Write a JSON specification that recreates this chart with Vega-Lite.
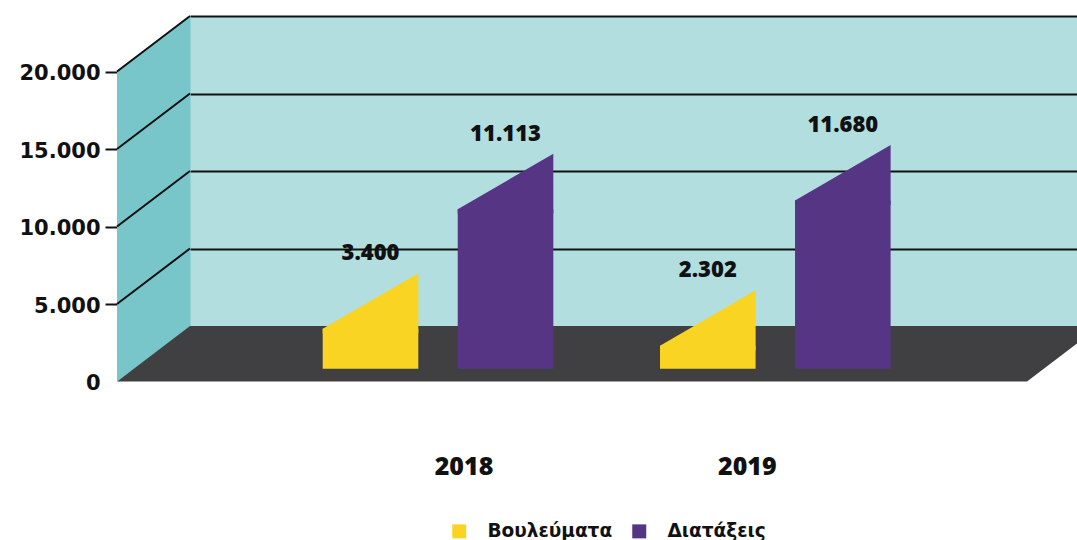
{
  "$schema": "https://vega.github.io/schema/vega-lite/v6.json",
  "autosize": {"type": "none"},
  "width": 887,
  "height": 310,
  "padding": {"left": 190, "top": 16, "right": 0, "bottom": 214},
  "background": "white",
  "config": {
    "view": {"fill": "#b2dee0", "stroke": null},
    "locale": {"number": {"decimal": ",", "thousands": ".", "grouping": [3], "currency": ["", " €"]}}
  },
  "data": {
    "values": [
      {"year": "2018", "series": "Βουλεύματα", "value": 3400},
      {"year": "2018", "series": "Διατάξεις", "value": 11113},
      {"year": "2019", "series": "Βουλεύματα", "value": 2302},
      {"year": "2019", "series": "Διατάξεις", "value": 11680}
    ]
  },
  "layer": [
    {
      "transform": [{"aggregate": [{"op": "count", "as": "n"}]}],
      "mark": {"type": "point", "shape": "M -516.5 -254.5 L -443 -310.5 L -443 0.5 L -516.5 55.5 Z", "size": 4, "filled": true, "opacity": 1, "fill": "#78c5ca", "strokeWidth": 0},
      "encoding": {
        "y": {"datum": 0, "type": "quantitative",
              "scale": {"domain": [0, 20000], "nice": false, "zero": true},
              "axis": {"orient": "left", "values": [5000, 10000, 15000, 20000], "grid": true, "gridColor": "#111111", "gridWidth": 2, "gridOpacity": 1, "labels": false, "ticks": false, "domain": false, "title": null}}
      }
    },
    {
      "transform": [{"aggregate": [{"op": "count", "as": "n"}]}],
      "mark": {"type": "point", "shape": "M -516.5 55.5 L -443.5 0 L 466.5 0 L 393.5 55.5 Z", "size": 4, "filled": true, "opacity": 1, "fill": "#404042", "strokeWidth": 0},
      "encoding": {"y": {"datum": 0, "type": "quantitative", "axis": null}}
    },
    {
      "transform": [{"aggregate": [{"op": "count", "as": "n"}]}],
      "mark": {"type": "point", "shape": "M -516.5 -254.5 L -443.5 -310 M -516.5 -177 L -443.5 -232.5 M -516.5 -99.5 L -443.5 -155 M -516.5 -22 L -443.5 -77.5", "size": 4, "filled": false, "opacity": 1, "stroke": "#111111", "strokeWidth": 2},
      "encoding": {"y": {"datum": 0, "type": "quantitative", "axis": null}}
    },
    {
      "encoding": {
        "x": {"field": "year", "type": "nominal",
              "scale": {"paddingInner": 0.3163, "paddingOuter": 0.473, "align": 0.4159},
              "axis": {"orient": "bottom", "title": null, "labelAngle": 0, "ticks": false, "tickSize": 0, "domain": false, "grid": false,
                       "labelPadding": 128, "labelFont": "Open Sans", "labelFontWeight": 800, "labelFontSize": 25, "labelColor": "#111111",
                       "labelOffset": {"condition": {"test": "datum.value === '2018'", "value": 26}, "value": -28}}},
        "xOffset": {"field": "series", "type": "nominal", "scale": {"paddingInner": 0.292, "paddingOuter": 0}},
        "y": {"field": "value", "type": "quantitative",
              "axis": {"orient": "left", "offset": 73, "values": [0, 5000, 10000, 15000, 20000], "format": ",d", "grid": false, "domain": false,
                       "ticks": true, "tickSize": 12, "tickWidth": 2, "tickColor": "#111111", "tickOffset": 55.5,
                       "tickOpacity": {"condition": {"test": "datum.value === 0", "value": 0}, "value": 1},
                       "labelFont": "DejaVu Sans", "labelFontWeight": "bold", "labelFontSize": 21, "labelColor": "#111111", "labelPadding": 5, "labelOffset": 2, "title": null}}
      },
      "layer": [
        {
          "mark": {"type": "bar", "yOffset": 55.5, "y2Offset": 42.7, "strokeWidth": 0},
          "encoding": {
            "y2": {"datum": 0},
            "color": {"field": "series", "type": "nominal",
                      "scale": {"domain": ["Βουλεύματα", "Διατάξεις"], "range": ["#f9d423", "#573585"]},
                      "legend": {"orient": "none", "legendX": 260, "legendY": 506, "direction": "horizontal", "title": null,
                                 "symbolType": "square", "symbolSize": 196, "symbolStrokeWidth": 0, "symbolOpacity": 1,
                                 "labelFont": "DejaVu Sans", "labelFontWeight": "bold", "labelFontSize": 18.5, "labelColor": "#111111",
                                 "labelOffset": 19, "columnPadding": 17, "padding": 0}}
          }
        },
        {
          "mark": {"type": "point", "shape": "M -47.8 55.5 L 47.8 0 L 47.8 60 L -47.8 60 Z", "size": 4, "filled": true, "opacity": 1, "strokeWidth": 0},
          "encoding": {"color": {"field": "series", "type": "nominal"}}
        },
        {
          "mark": {"type": "text", "dy": -20, "font": "Open Sans", "fontWeight": 800, "fontSize": 22, "color": "#111111", "baseline": "middle"},
          "encoding": {"text": {"field": "value", "type": "quantitative", "format": ",d"}}
        }
      ]
    }
  ],
  "resolve": {"axis": {"y": "independent"}}
}
